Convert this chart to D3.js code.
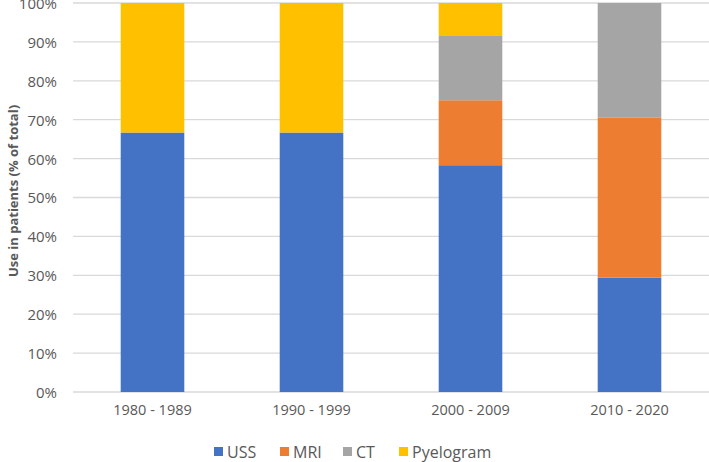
<!DOCTYPE html>
<html>
<head>
<meta charset="utf-8">
<script src="https://cdn.jsdelivr.net/npm/d3@7"></script>
<style>
  body { margin: 0; background: #fff; }
  text { font-family: "Open Sans", "Noto Sans", sans-serif; }
</style>
</head>
<body>
<div id="chart"></div>
<script>
// chart data
var decades = ["1980 - 1989", "1990 - 1999", "2000 - 2009", "2010 - 2020"];
var series = ["USS", "MRI", "CT", "Pyelogram"];
var uss = [66.7, 66.7, 58.3, 29.4];
var mri = [0, 0, 16.7, 41.2];
var ct = [0, 0, 16.7, 29.4];
var pyelogram = [33.3, 33.3, 8.3, 0];
var yTicks = [0, 10, 20, 30, 40, 50, 60, 70, 80, 90, 100];
var colors = ["#4472C4", "#ED7D31", "#A5A5A5", "#FFC000"];

var svgWidth = 709;
var svgHeight = 462;
var margin = { top: 3, right: 0, bottom: 70, left: 73 };
var width = svgWidth - margin.left - margin.right;
var height = svgHeight - margin.top - margin.bottom;

var svg = d3.select("#chart")
  .append("svg")
  .attr("width", svgWidth)
  .attr("height", svgHeight);

var chartGroup = svg.append("g")
  .attr("transform", `translate(${margin.left}, ${margin.top})`);

// build rows for the stack
var rows = decades.map(function(d, i) {
  return { decade: d, USS: uss[i], MRI: mri[i], CT: ct[i], Pyelogram: pyelogram[i] };
});
var stacked = d3.stack().keys(series)(rows);

var xScale = d3.scaleBand()
  .domain(decades)
  .range([0, width])
  .paddingInner(0.6)
  .paddingOuter(0.3);

var yScale = d3.scaleLinear()
  .domain([0, 100])
  .range([height, 0]);

// gridlines
chartGroup.append("g")
  .selectAll("line")
  .data(yTicks)
  .enter()
  .append("line")
  .attr("x1", 0)
  .attr("x2", width)
  .attr("y1", d => yScale(d))
  .attr("y2", d => yScale(d))
  .attr("stroke", "#d9d9d9")
  .attr("stroke-width", 1.3);

// y axis labels
var leftAxis = d3.axisLeft(yScale)
  .tickValues(yTicks)
  .tickFormat(d => d + "%")
  .tickSize(0)
  .tickPadding(16);

var yAxisG = chartGroup.append("g").call(leftAxis);
yAxisG.select(".domain").remove();
yAxisG.selectAll("text")
  .attr("fill", "#595959")
  .attr("dy", "0.36em")
  .style("font-size", "15px");

// bars
chartGroup.selectAll(".layer")
  .data(stacked)
  .enter()
  .append("g")
  .attr("class", "layer")
  .attr("fill", (d, i) => colors[i])
  .selectAll("rect")
  .data(d => d)
  .enter()
  .append("rect")
  .attr("x", d => xScale(d.data.decade))
  .attr("y", d => yScale(d[1]))
  .attr("width", xScale.bandwidth())
  .attr("height", d => yScale(d[0]) - yScale(d[1]));

// x axis
var bottomAxis = d3.axisBottom(xScale).tickSize(0).tickPadding(13);
var xAxisG = chartGroup.append("g")
  .attr("transform", `translate(0, ${height})`)
  .call(bottomAxis);
xAxisG.select(".domain").remove();
xAxisG.selectAll("text")
  .attr("fill", "#595959")
  .style("font-size", "14.5px");

// y axis title
svg.append("text")
  .attr("transform", "rotate(-90)")
  .attr("x", -191)
  .attr("y", 18)
  .attr("text-anchor", "middle")
  .attr("fill", "#595959")
  .style("font-size", "13px")
  .style("font-weight", "bold")
  .text("Use in patients (% of total)");

// legend
var legendX = [214, 280, 343, 399];
var legend = svg.append("g")
  .attr("transform", "translate(0, 452)");

var items = legend.selectAll("g")
  .data(series)
  .enter()
  .append("g")
  .attr("transform", (d, i) => `translate(${legendX[i]}, 0)`);

items.append("rect")
  .attr("x", 0)
  .attr("y", -5)
  .attr("width", 9)
  .attr("height", 9)
  .attr("fill", (d, i) => colors[i]);

items.append("text")
  .attr("x", 13)
  .attr("y", 6)
  .attr("fill", "#595959")
  .style("font-size", "16px")
  .text(d => d);
</script>
</body>
</html>
